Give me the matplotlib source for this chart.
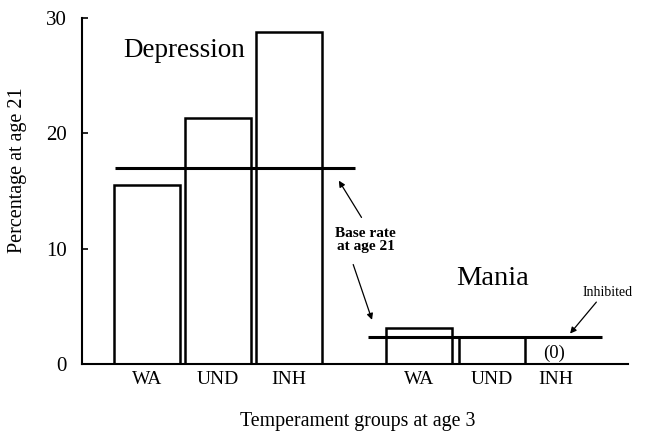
import matplotlib.pyplot as plt
import numpy as np

plt.rcParams['font.family'] = ['Liberation Serif', 'DejaVu Serif']

# Data
groups = ['WA', 'UND', 'INH']
depression = [15.5, 21.3, 28.8]
mania = [3.1, 2.3, 0.0]
base_depression = 17.0
base_mania = 2.3

# x positions of the two clusters
dep_x = np.array([0.0, 1.0, 2.0])
man_x = np.array([3.83, 4.85, 5.76])
bar_w = 0.93

fig = plt.figure(figsize=(6.47, 4.38), dpi=100)
ax = fig.add_axes([0.1267, 0.169, 0.8439, 0.79])

ax.bar(dep_x, depression, bar_w, facecolor='white', edgecolor='black', linewidth=1.8)
# mania INH is 0, so only its label is drawn
ax.bar(man_x[:2], mania[:2], bar_w, facecolor='white', edgecolor='black', linewidth=1.8)

# base rate lines
ax.hlines(base_depression, -0.45, 2.93, color='black', linewidth=2.2)
ax.hlines(base_mania, 3.11, 6.41, color='black', linewidth=2.2)

ax.text(man_x[2] - 0.03, 0.2, '(0)', ha='center', va='bottom', fontsize=13.5)

ax.set_xlim(-0.915, 6.77)
ax.set_ylim(0, 30)
ax.set_yticks([0, 10, 20, 30])
ax.set_xticks(list(dep_x) + list(man_x))
ax.set_xticklabels(groups + groups, fontsize=14)
ax.tick_params(axis='y', labelsize=15, length=4, width=1.2, direction='in', pad=11)
ax.tick_params(axis='x', length=0, pad=5)

for s in ['top', 'right']:
    ax.spines[s].set_visible(False)
ax.spines['left'].set_linewidth(1.5)
ax.spines['bottom'].set_linewidth(1.5)

ax.set_ylabel('Percentage at age 21', fontsize=14.5)
ax.yaxis.set_label_coords(-0.10, 0.561)
ax.set_xlabel('Temperament groups at age 3', fontsize=14.3, va='top')
ax.xaxis.set_label_coords(0.505, -0.139)

ax.text(-0.34, 27.2, 'Depression', fontsize=19.5, ha='left', va='center')
ax.text(4.35, 7.4, 'Mania', fontsize=20.5, ha='left', va='center')

arrow = dict(arrowstyle='-|>', color='black', linewidth=0.9, mutation_scale=9)
ax.text(3.08, 10.75, 'Base rate\nat age 21', fontsize=11, fontweight='bold',
        ha='center', va='center', linespacing=0.95)
ax.annotate('', xy=(2.68, 16.1), xytext=(3.04, 12.5), arrowprops=arrow)
ax.annotate('', xy=(3.18, 3.6), xytext=(2.89, 8.85), arrowprops=arrow)

ax.text(6.49, 6.16, 'Inhibited', fontsize=10, ha='center', va='center')
ax.annotate('', xy=(5.93, 2.45), xytext=(6.35, 5.55), arrowprops=arrow)

fig.savefig('out.png', dpi=100)
